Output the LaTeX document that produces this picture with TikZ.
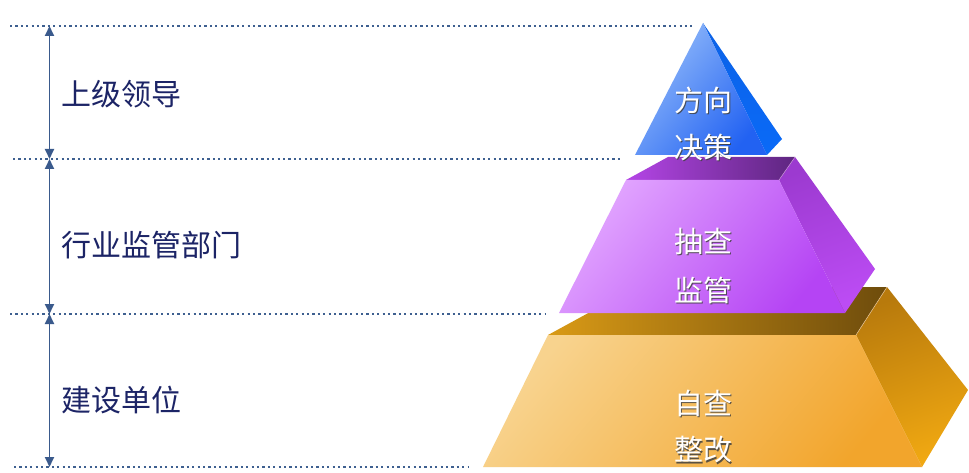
\documentclass[tikz,border=0pt]{standalone}
\usepackage{fontspec}
\setmainfont{Noto Sans CJK SC}
\usetikzlibrary{arrows.meta}
\definecolor{navy}{HTML}{1C2466}
\definecolor{axisc}{HTML}{3A5A8C}
\definecolor{dotc}{HTML}{3E6090}
\definecolor{oTopL}{HTML}{D99A16}
\definecolor{oTopR}{HTML}{6E4C0C}
\definecolor{oSideT}{HTML}{B87A0C}
\definecolor{oSideB}{HTML}{F0A812}
\definecolor{oFrontL}{HTML}{F8D38E}
\definecolor{oFrontR}{HTML}{F2A52C}
\definecolor{pTopL}{HTML}{B445E6}
\definecolor{pTopR}{HTML}{5E2680}
\definecolor{pSideT}{HTML}{9C3AD0}
\definecolor{pSideB}{HTML}{BC4CF4}
\definecolor{pFrontL}{HTML}{E2A6FF}
\definecolor{pFrontR}{HTML}{B544F4}
\definecolor{bSideT}{HTML}{0C62E6}
\definecolor{bSideB}{HTML}{0A6AF8}
\definecolor{bFrontL}{HTML}{94BCFA}
\definecolor{bFrontR}{HTML}{2262F2}
\tikzset{
  dotline/.style={draw=dotc, line width=2.6pt, dash pattern=on 2.2pt off 3.2pt},
  axisline/.style={draw=axisc, line width=1.8pt, {Triangle[length=10pt,width=9pt]}-{Triangle[length=10pt,width=9pt]}},
  sidelabel/.style={text=navy, font=\fontsize{30}{32}\selectfont, anchor=west, inner sep=0pt},
  pyrtext/.style={text=white, font=\fontsize{29}{31}\selectfont, inner sep=0pt},
  pyrshadow/.style={text=black!75, font=\fontsize{29}{31}\selectfont, inner sep=0pt, opacity=0.85},
}
\newcommand{\pyrlabel}[3]{%
  \node[pyrshadow] (#1s) at ([xshift=1.8pt,yshift=-1.8pt]#2) {#3};
  \node[pyrtext] (#1) at (#2) {#3};}
\begin{document}
\begin{tikzpicture}[x=1pt,y=-1pt]
\useasboundingbox[fill=white] (0,0) rectangle (969,473);
% dotted guide lines
\coordinate (d1a) at (10,26);  \coordinate (d1b) at (692,26);
\coordinate (d2a) at (13,159); \coordinate (d2b) at (622,159);
\coordinate (d3a) at (10,314); \coordinate (d3b) at (546,314);
\coordinate (d4a) at (14,467); \coordinate (d4b) at (468,467);
\draw[dotline] (d1a) -- (d1b);
\draw[dotline] (d2a) -- (d2b);
\draw[dotline] (d3a) -- (d3b);
\draw[dotline] (d4a) -- (d4b);
% axis
\coordinate (a1) at (49.5,26);
\coordinate (a2) at (49.5,159);
\coordinate (a3) at (49.5,314);
\coordinate (a4) at (49.5,467);
\draw[axisline] (a2) -- (a1);
\draw[axisline] (a3) -- (a2);
\draw[axisline] (a4) -- (a3);
% side labels
\node[sidelabel] (l1) at (61,94) {上级领导};
\node[sidelabel] (l2) at (61,245) {行业监管部门};
\node[sidelabel] (l3) at (61,400) {建设单位};
% ---- bottom (orange) ----
\shade[left color=oTopL, right color=oTopR, shading angle=90]
  (548,335) -- (636,287) -- (887,287) -- (856,335) -- cycle;
\shade[top color=oSideT, bottom color=oSideB, shading angle=20]
  (856,335) -- (887,287) -- (968,390) -- (922,467) -- cycle;
\shade[left color=oFrontL, right color=oFrontR, shading angle=50]
  (548,335) -- (856,335) -- (922,467) -- (483,467) -- cycle;
\draw[white!80!orange, line width=0.6pt, opacity=0.6] (856,335) -- (887,287);
% ---- middle (purple) ----
\shade[left color=pTopL, right color=pTopR, shading angle=90]
  (626,180) -- (668,157) -- (795,157) -- (779,180) -- cycle;
\shade[top color=pSideT, bottom color=pSideB, shading angle=20]
  (779,180) -- (795,157) -- (875,269) -- (845,313) -- cycle;
\shade[left color=pFrontL, right color=pFrontR, shading angle=50]
  (626,180) -- (779,180) -- (845,313) -- (559,313) -- cycle;
\draw[white!70!violet, line width=0.6pt, opacity=0.6] (779,180) -- (795,157);
% ---- top (blue) ----
\shade[top color=bSideT, bottom color=bSideB]
  (703,23) -- (782,139) -- (767,155) -- cycle;
\shade[left color=bFrontL, right color=bFrontR, shading angle=50]
  (703,23) -- (767,155) -- (635,155) -- cycle;
% pyramid labels
\pyrlabel{t1}{703,100}{方向}
\pyrlabel{t2}{703,147}{决策}
\pyrlabel{t3}{703,241}{抽查}
\pyrlabel{t4}{703,290}{监管}
\pyrlabel{t5}{703,403}{自查}
\pyrlabel{t6}{703,450}{整改}
\end{tikzpicture}
\end{document}
